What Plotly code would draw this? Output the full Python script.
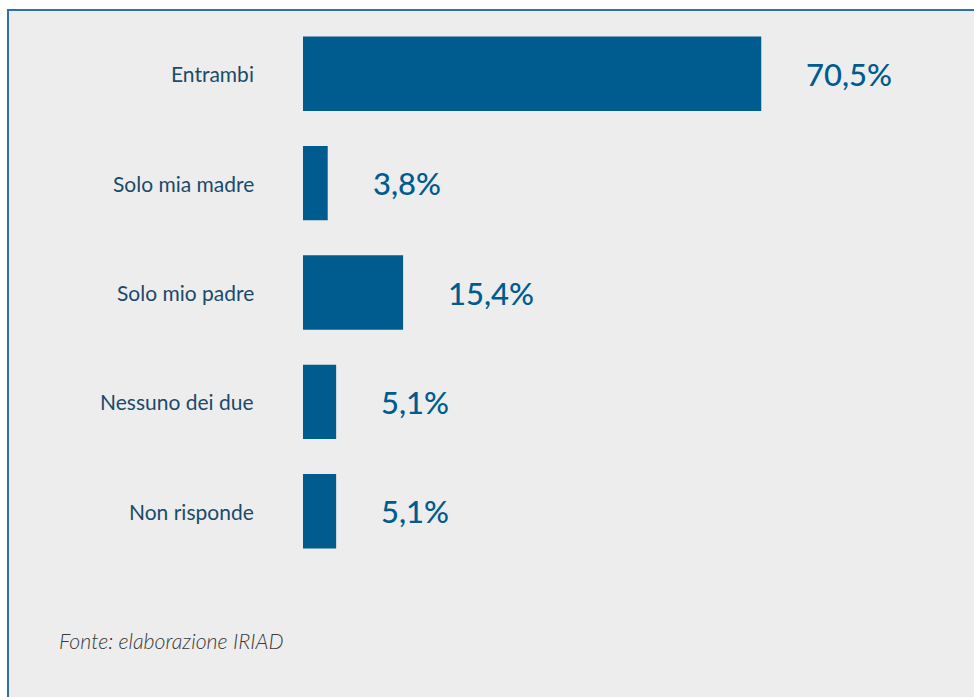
import plotly.graph_objects as go

categories = ["Entrambi", "Solo mia madre", "Solo mio padre", "Nessuno dei due", "Non risponde"]
values = [70.5, 3.8, 15.4, 5.1, 5.1]
value_labels = ["70,5%", "3,8%", "15,4%", "5,1%", "5,1%"]
source_text = "Fonte: elaborazione IRIAD"

BAR = "#005B8F"
LABEL = "#1B4A6B"
W, H = 974, 697
ML, MR, MT, MB = 303, 21, 19, 131
PW, PH = W - ML - MR, H - MT - MB

def px_x(px):
    return (px - ML) / PW

def px_y(py):
    return (H - MB - py) / PH

fig = go.Figure()
fig.add_trace(go.Bar(
    x=values, y=categories, orientation="h",
    marker=dict(color=BAR, line=dict(width=0)),
    width=0.68, hoverinfo="skip",
))

annotations = []
for c, v, t in zip(categories, values, value_labels):
    annotations.append(dict(
        x=v, y=c, xref="x", yref="y", text=t, showarrow=False,
        xanchor="left", yanchor="middle", xshift=43,
        font=dict(family="Lato", size=31, color=BAR, weight=500),
    ))
    annotations.append(dict(
        x=0, y=c, xref="paper", yref="y", text=c, showarrow=False,
        xanchor="right", yanchor="middle", xshift=-47,
        font=dict(family="Lato", size=21, color=LABEL),
    ))
annotations.append(dict(
    x=px_x(57), y=px_y(641), xref="paper", yref="paper", text=source_text,
    showarrow=False, xanchor="left", yanchor="middle",
    font=dict(family="Lato", size=21.3, color="#3A3A3A", style="italic", weight=300),
))

fig.update_layout(
    width=W, height=H,
    margin=dict(l=ML, r=MR, t=MT, b=MB, pad=0),
    paper_bgcolor="white",
    plot_bgcolor="rgba(0,0,0,0)",
    showlegend=False,
    bargap=0.32,
    xaxis=dict(range=[0, 100], visible=False, fixedrange=True),
    yaxis=dict(categoryorder="array", categoryarray=categories,
               autorange="reversed", visible=False, fixedrange=True),
    annotations=annotations,
    shapes=[dict(
        type="rect", xref="paper", yref="paper", layer="below",
        x0=px_x(8), x1=px_x(990), y0=px_y(720), y1=px_y(10),
        fillcolor="#EDEDED", line=dict(color="#2E70A8", width=2),
    )],
)

fig.write_html("out.html", config={"displayModeBar": False},
               post_script="document.body.style.margin='0';document.body.style.overflow='hidden';")
